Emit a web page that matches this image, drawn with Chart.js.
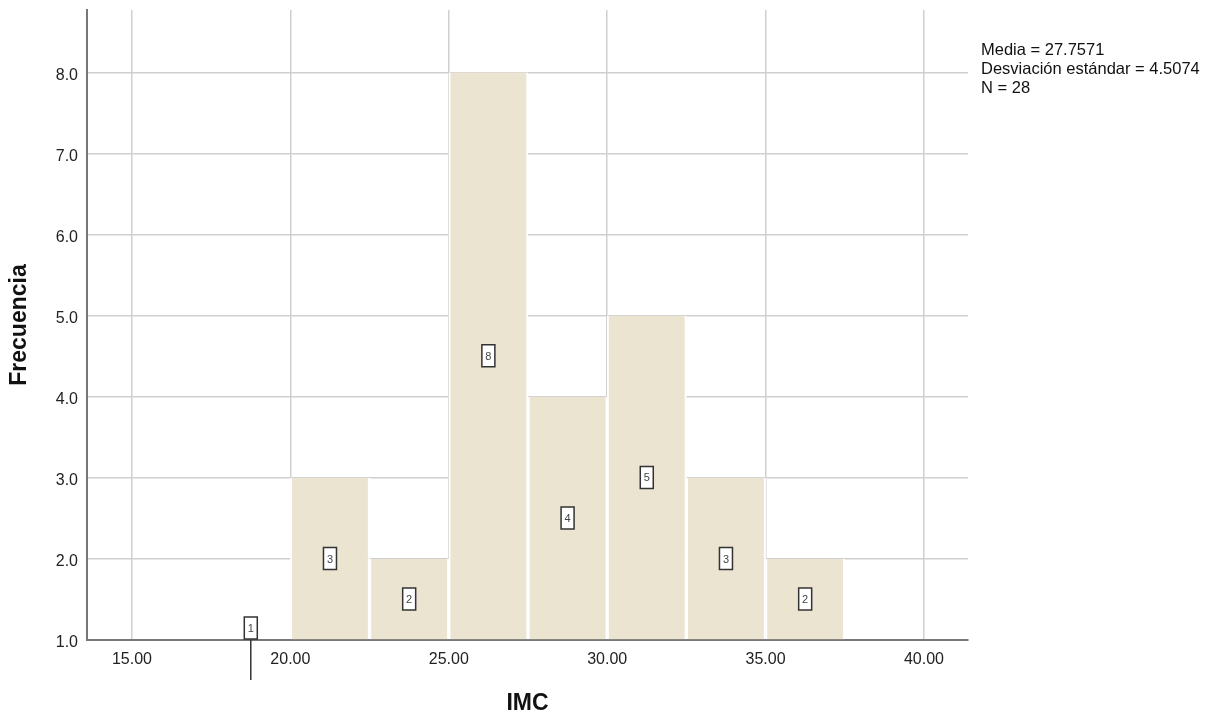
<!DOCTYPE html>
<html>
<head>
<meta charset="utf-8">
<script src="https://cdn.jsdelivr.net/npm/chart.js@4.4.1/dist/chart.umd.min.js"></script>
<style>
  html, body { margin: 0; padding: 0; background: #fff; }
  #wrap { width: 1217px; height: 717px; }
</style>
</head>
<body>
<div id="wrap"><canvas id="chart"></canvas></div>
<script>
// histogram bins (IMC) and their counts
const binCenters = [18.75, 21.25, 23.75, 26.25, 28.75, 31.25, 33.75, 36.25];
const frequencies = [1, 3, 2, 8, 4, 5, 3, 2];
const xTicks = [15, 20, 25, 30, 35, 40];
const yTicks = [1, 2, 3, 4, 5, 6, 7, 8];
const statsLines = ['Media = 27.7571', 'Desviación estándar = 4.5074', 'N = 28'];

const FONT = '"Liberation Sans", Arial, sans-serif';

// boxed count labels in the middle of each bar
const countLabels = {
  id: 'countLabels',
  afterDatasetsDraw(chart) {
    const ctx = chart.ctx;
    const meta = chart.getDatasetMeta(0);
    const yScale = chart.scales.y;
    const w = 13, h = 22;
    ctx.save();
    meta.data.forEach((el, i) => {
      const mid = (el.y + el.base) / 2;
      const cy = Math.min(mid, el.base - h / 2 - 1);
      const cx = el.x;
      if (frequencies[i] <= yScale.min) {
        // bar collapsed onto the baseline: SPSS leaves a stub below the axis
        ctx.strokeStyle = '#333';
        ctx.lineWidth = 1.5;
        ctx.beginPath();
        ctx.moveTo(cx, el.base);
        ctx.lineTo(cx, el.base + 40);
        ctx.stroke();
      }
      ctx.fillStyle = '#fff';
      ctx.strokeStyle = '#333';
      ctx.lineWidth = 1.5;
      ctx.beginPath();
      ctx.rect(cx - w / 2, cy - h / 2, w, h);
      ctx.fill();
      ctx.stroke();
      ctx.fillStyle = '#444';
      ctx.font = '11px ' + FONT;
      ctx.textAlign = 'center';
      ctx.textBaseline = 'middle';
      ctx.fillText(String(frequencies[i]), cx, cy + 1);
    });
    ctx.restore();
  }
};

// summary statistics to the right of the plot
const statsBox = {
  id: 'statsBox',
  afterDraw(chart) {
    const ctx = chart.ctx;
    const area = chart.chartArea;
    ctx.save();
    ctx.fillStyle = '#111';
    ctx.font = '16.5px ' + FONT;
    ctx.textAlign = 'left';
    ctx.textBaseline = 'middle';
    statsLines.forEach((line, i) => {
      ctx.fillText(line, area.right + 13, area.top + 40 + i * 19);
    });
    ctx.restore();
  }
};

new Chart(document.getElementById('chart'), {
  type: 'bar',
  data: {
    datasets: [{
      data: binCenters.map((x, i) => ({ x: x, y: frequencies[i] })),
      base: 1,
      backgroundColor: 'rgb(235, 228, 208)',
      borderColor: '#ffffff',
      borderWidth: { left: 2, right: 2, top: 0, bottom: 0 },
      borderSkipped: false,
      barPercentage: 1,
      categoryPercentage: 1,
      grouped: false
    }]
  },
  options: {
    responsive: true,
    maintainAspectRatio: false,
    animation: false,
    layout: { padding: { top: 10, right: 249, bottom: 0, left: 0 } },
    plugins: {
      legend: { display: false },
      tooltip: { enabled: false }
    },
    scales: {
      x: {
        type: 'linear',
        min: 13.58,
        max: 41.39,
        offset: false,
        afterBuildTicks: (scale) => { scale.ticks = xTicks.map(v => ({ value: v })); },
        afterFit: (scale) => {
          scale.height = 77;
          scale.paddingLeft = 0;
          scale.paddingRight = 0;
        },
        ticks: {
          padding: 10,
          color: '#222',
          font: { family: FONT, size: 16 },
          callback: (v) => Number(v).toFixed(2)
        },
        grid: { color: '#d0d0d0', lineWidth: 1.5, drawTicks: false, offset: false },
        border: { color: '#777', width: 2 },
        title: {
          display: true,
          text: 'IMC',
          color: '#111',
          font: { family: FONT, size: 23, weight: 'bold' },
          padding: { top: 0, bottom: 0 }
        }
      },
      y: {
        min: 1,
        max: 8.77,
        afterBuildTicks: (scale) => { scale.ticks = yTicks.map(v => ({ value: v })); },
        afterFit: (scale) => {
          scale.width = 87;
          scale.paddingTop = 0;
          scale.paddingBottom = 0;
        },
        ticks: {
          padding: 9,
          labelOffset: 3,
          color: '#222',
          font: { family: FONT, size: 16 },
          callback: (v) => Number(v).toFixed(1)
        },
        grid: { color: '#d0d0d0', lineWidth: 1.5, drawTicks: false, offset: false },
        border: { color: '#777', width: 2 },
        title: {
          display: true,
          text: 'Frecuencia',
          color: '#111',
          font: { family: FONT, size: 23, weight: 'bold' },
          padding: { top: 6, bottom: 0 }
        }
      }
    }
  },
  plugins: [countLabels, statsBox]
});
</script>
</body>
</html>
